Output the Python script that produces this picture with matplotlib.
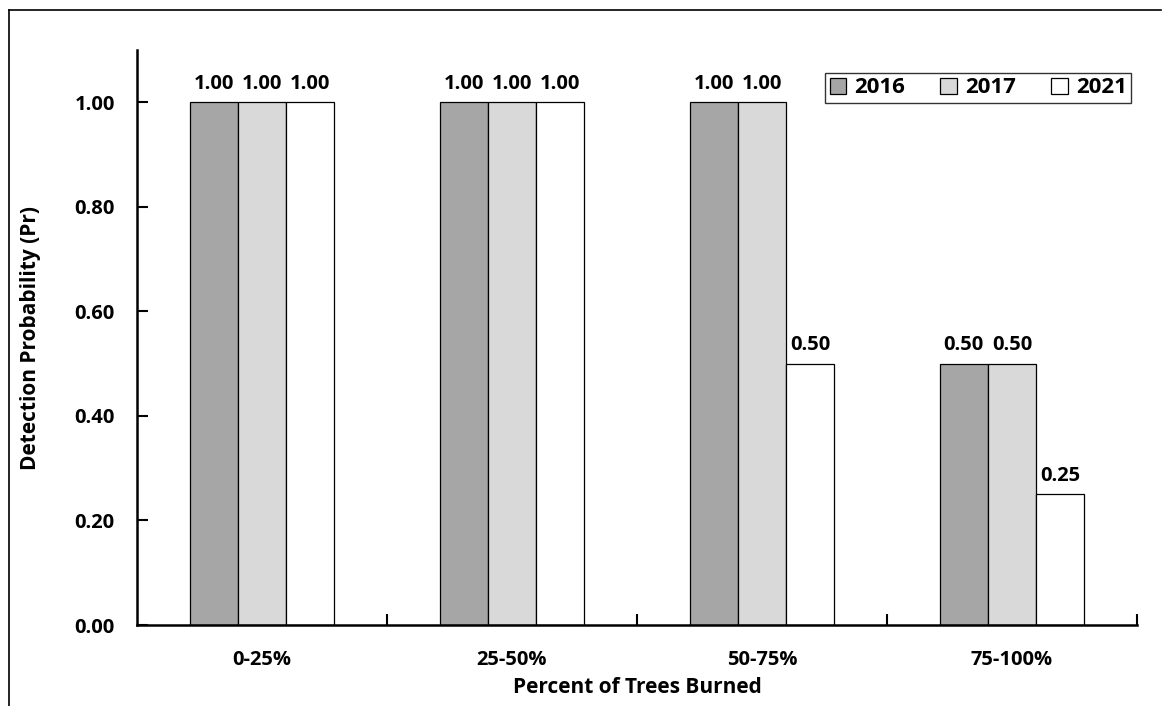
import matplotlib.pyplot as plt
import numpy as np
from matplotlib.lines import Line2D

plt.rcParams['font.family'] = ['Open Sans', 'DejaVu Sans']
plt.rcParams['font.weight'] = 'bold'

categories = ['0-25%', '25-50%', '50-75%', '75-100%']
years = ['2016', '2017', '2021']
values = {
    '2016': [1.00, 1.00, 1.00, 0.50],
    '2017': [1.00, 1.00, 1.00, 0.50],
    '2021': [1.00, 1.00, 0.50, 0.25],
}
colors = {'2016': '#a6a6a6', '2017': '#d9d9d9', '2021': '#ffffff'}

fig = plt.figure(figsize=(11.62, 7.06), dpi=100)
ax = fig.add_axes([0.1179, 0.1147, 0.8606, 0.8145])

x = np.arange(len(categories))
w = 0.193
for i, yr in enumerate(years):
    bars = ax.bar(x + (i - 1) * w, values[yr], w, color=colors[yr],
                  edgecolor='black', linewidth=0.9, label=yr)
    for b, v in zip(bars, values[yr]):
        ax.annotate(f'{v:.2f}', (b.get_x() + b.get_width() / 2, v),
                    xytext=(0, 6), textcoords='offset points',
                    ha='center', va='bottom', fontsize=14.5, fontweight='bold')

ax.set_xlim(-0.5, 3.5)
ax.set_ylim(0, 1.10)
ax.set_yticks(np.arange(0, 1.01, 0.2))
ax.set_yticklabels([f'{t:.2f}' for t in np.arange(0, 1.01, 0.2)], fontsize=14.5)
ax.set_xticks(x)
ax.set_xticklabels(categories, fontsize=14.5)
ax.tick_params(axis='x', length=0, pad=18)
ax.set_xticks(np.arange(0.5, 3.6, 1), minor=True)
ax.tick_params(axis='x', which='minor', direction='in', length=8, width=1.5)
ax.tick_params(axis='y', direction='in', length=8, width=1.5, pad=16)

for s in ['top', 'right']:
    ax.spines[s].set_visible(False)
for s in ['left', 'bottom']:
    ax.spines[s].set_linewidth(1.8)

ax.set_xlabel('Percent of Trees Burned', fontsize=15, fontweight='bold', labelpad=5)
ax.set_ylabel('Detection Probability (Pr)', fontsize=15, fontweight='bold', labelpad=24)

leg = ax.legend(loc='upper right', bbox_to_anchor=(0.994, 0.96), ncol=3,
                fontsize=16, frameon=True, fancybox=False, handlelength=0.75,
                handleheight=0.75, columnspacing=1.6, handletextpad=0.35,
                borderpad=0.2, borderaxespad=0)
leg.get_frame().set_edgecolor('black')
leg.get_frame().set_linewidth(1.0)
for t in leg.get_texts():
    t.set_fontweight('bold')

fig.add_artist(Line2D([0.0077, 0.9995], [0.9858, 0.9858], color='black', lw=1.2,
                      transform=fig.transFigure))
fig.add_artist(Line2D([0.0077, 0.0077], [0.0, 0.9858], color='black', lw=1.2,
                      transform=fig.transFigure))

fig.savefig('out.png', dpi=100)
